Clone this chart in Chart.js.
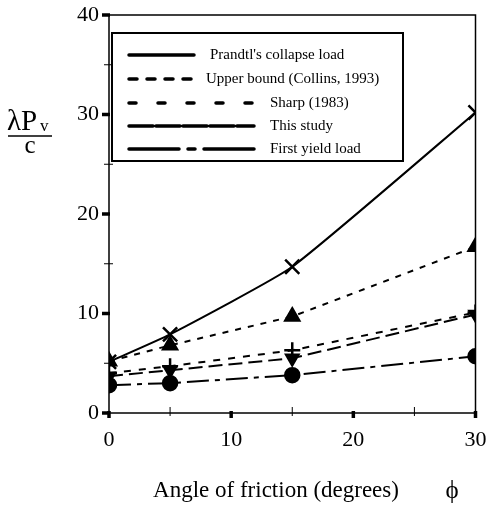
<!DOCTYPE html>
<html>
<head>
<meta charset="utf-8">
<script src="https://cdn.jsdelivr.net/npm/chart.js@4"></script>
<style>
  html, body { margin: 0; padding: 0; background: #fff; }
  #wrap { width: 488px; height: 511px; }
</style>
</head>
<body>
<div id="wrap"><canvas id="chart" width="488" height="511"></canvas></div>
<script>
// angle of friction, degrees
const phi = [0, 5, 15, 30];

const prandtl = [5.14, 7.9, 14.7, 30.2];
const upperBound = [5.2, 6.8, 9.7, 16.7];
const sharp = [4.0, 4.7, 6.3, 10.1];
const thisStudy = [3.7, 4.3, 5.5, 9.9];
const firstYield = [2.8, 3.0, 3.8, 5.7];

const labels = ["Prandtl's collapse load", 'Upper bound (Collins, 1993)', 'Sharp (1983)', 'This study', 'First yield load'];
const xTicks = [0, 10, 20, 30];
const yTicks = [0, 10, 20, 30, 40];

const serif = '"Liberation Serif", "DejaVu Serif", serif';

function pts(ys) {
  return phi.map((x, i) => ({ x: x, y: ys[i] }));
}

// legend: sample line length, dash pattern, text x
const legendStyle = [
  { len: 65, dash: [], tx: 210 },
  { len: 62, dash: [8, 10], tx: 206 },
  { len: 125, dash: [7, 22], tx: 270 },
  { len: 125, dash: [24, 3], tx: 270 },
  { len: 129, dash: [50, 9, 7, 9], tx: 270 }
];

const decorations = {
  id: 'decorations',
  afterDraw(chart) {
    const ctx = chart.ctx;
    const a = chart.chartArea;
    const xs = chart.scales.x, ys = chart.scales.y;
    ctx.save();
    ctx.strokeStyle = '#000';
    ctx.fillStyle = '#000';

    // frame
    ctx.lineWidth = 1.5;
    ctx.strokeRect(a.left, a.top, a.right - a.left, a.bottom - a.top);

    // ticks
    for (let v = 0; v <= 30; v += 5) {
      const px = xs.getPixelForValue(v);
      ctx.lineWidth = v % 10 === 0 ? 3.5 : 1;
      ctx.beginPath();
      ctx.moveTo(px, a.bottom + (v % 10 === 0 ? 5 : 3));
      ctx.lineTo(px, a.bottom - (v % 10 === 0 ? 2 : 6));
      ctx.stroke();
    }
    for (let v = 0; v <= 40; v += 5) {
      const py = ys.getPixelForValue(v);
      ctx.lineWidth = v % 10 === 0 ? 3.5 : 1;
      ctx.beginPath();
      ctx.moveTo(a.left - (v % 10 === 0 ? 7 : 5), py);
      ctx.lineTo(a.left + (v % 10 === 0 ? 1 : 4), py);
      ctx.stroke();
    }

    // tick labels
    ctx.font = '22px ' + serif;
    ctx.textAlign = 'center';
    ctx.textBaseline = 'alphabetic';
    xTicks.forEach(v => ctx.fillText(String(v), xs.getPixelForValue(v), 446));
    ctx.textAlign = 'right';
    ctx.textBaseline = 'middle';
    yTicks.forEach(v => ctx.fillText(String(v), 99, ys.getPixelForValue(v)));

    // legend box
    ctx.lineWidth = 2;
    ctx.strokeRect(112, 33, 291, 128);
    ctx.font = '15px ' + serif;
    ctx.textBaseline = 'middle';
    ctx.textAlign = 'left';
    const rows = [55, 79, 103, 126, 149];
    chart.data.datasets.forEach((ds, i) => {
      const st = legendStyle[i];
      ctx.lineWidth = 3.5;
      ctx.lineCap = 'round';
      ctx.setLineDash(st.dash);
      ctx.beginPath();
      ctx.moveTo(129, rows[i]);
      ctx.lineTo(129 + st.len, rows[i]);
      ctx.stroke();
      ctx.setLineDash([]);
      ctx.lineCap = 'butt';
      ctx.fillText(ds.label, st.tx, rows[i]);
    });

    // y title as fraction
    ctx.font = '29px ' + serif;
    ctx.textBaseline = 'alphabetic';
    ctx.fillText('\u03BBP', 7, 130);
    ctx.font = '17px ' + serif;
    ctx.fillText('v', 40, 131);
    ctx.lineWidth = 1.3;
    ctx.beginPath();
    ctx.moveTo(8, 136);
    ctx.lineTo(52, 136);
    ctx.stroke();
    ctx.font = '25px ' + serif;
    ctx.textAlign = 'center';
    ctx.fillText('c', 30, 153);

    // x title
    ctx.font = '23px ' + serif;
    ctx.fillText('Angle of friction (degrees)', 276, 497);
    ctx.font = '25px ' + serif;
    ctx.fillText('\u03D5', 452, 498);
    ctx.restore();
  }
};

const common = { borderColor: '#000', backgroundColor: '#000', borderWidth: 2, pointBorderWidth: 2.5, fill: false, tension: 0 };

new Chart(document.getElementById('chart'), {
  type: 'line',
  data: {
    datasets: [
      Object.assign({}, common, { label: labels[0], data: pts(prandtl), pointStyle: 'crossRot', pointRadius: 10, tension: 0.15 }),
      Object.assign({}, common, { label: labels[1], data: pts(upperBound), borderDash: [6, 7], pointStyle: 'triangle', pointRadius: 8 }),
      Object.assign({}, common, { label: labels[2], data: pts(sharp), borderDash: [7, 8], pointStyle: 'cross', pointRadius: 8 }),
      Object.assign({}, common, { label: labels[3], data: pts(thisStudy), borderDash: [14, 6], pointStyle: 'triangle', pointRotation: 180, pointRadius: 7 }),
      Object.assign({}, common, { label: labels[4], data: pts(firstYield), borderDash: [22, 6, 5, 6], pointStyle: 'circle', pointRadius: 7 })
    ]
  },
  options: {
    responsive: false,
    animation: false,
    layout: { padding: { left: 0, right: 9, top: 15, bottom: 0 } },
    plugins: { legend: { display: false }, tooltip: { enabled: false } },
    scales: {
      x: {
        type: 'linear', min: 0, max: 30,
        afterFit(s) { s.height = 98; },
        grid: { display: false, drawTicks: false },
        border: { display: false },
        ticks: { display: false }
      },
      y: {
        type: 'linear', min: 0, max: 40,
        afterFit(s) { s.width = 109; },
        grid: { display: false, drawTicks: false },
        border: { display: false },
        ticks: { display: false }
      }
    }
  },
  plugins: [decorations]
});
</script>
</body>
</html>
